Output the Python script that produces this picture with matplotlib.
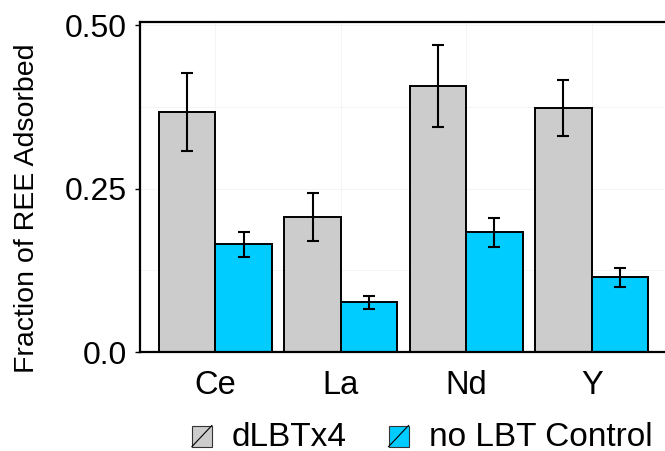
import numpy as np
import matplotlib
matplotlib.use('Agg')
from matplotlib import pyplot as plt
from matplotlib.patches import Patch, Rectangle
from matplotlib.lines import Line2D
from matplotlib.ticker import MultipleLocator


# values
elements = ['Ce', 'La', 'Nd', 'Y']
dlbt_mean = [0.367, 0.206, 0.407, 0.373]
dlbt_err = [0.059, 0.037, 0.063, 0.043]
ctrl_mean = [0.165, 0.076, 0.183, 0.114]
ctrl_err = [0.019, 0.010, 0.022, 0.014]
series_names = ['dLBTx4', 'no LBT Control']
y_ticks = [0.0, 0.25, 0.50]
y_tick_labels = ['0.0', '0.25', '0.50']

grey = '#CCCCCC'
blue = '#00CCFF'


class SlashKey:
    """legend key: filled square with a diagonal stroke"""
    def legend_artist(self, legend, orig_handle, fontsize, handlebox):
        x0, y0 = handlebox.xdescent, handlebox.ydescent
        w, h = handlebox.width, handlebox.height
        box = Rectangle((x0, y0), w, h, facecolor=orig_handle.get_facecolor(),
                        edgecolor='#333333', lw=0.8,
                        transform=handlebox.get_transform())
        slash = Line2D([x0, x0 + w], [y0, y0 + h], color='black', lw=0.8,
                       transform=handlebox.get_transform())
        handlebox.add_artist(box)
        handlebox.add_artist(slash)
        return box


plt.rcParams['font.family'] = ['Liberation Sans', 'DejaVu Sans']

W, H = 665, 451
fig = plt.figure(figsize=(W / 100, H / 100), dpi=100)
ax = fig.add_axes([140 / W, (H - 352) / H, 527 / W, 330 / H])

x = np.arange(len(elements))
bw = 0.45
ebar = dict(ecolor='black', elinewidth=1.5, capsize=4.3, capthick=1.5)
ax.bar(x - bw / 2, dlbt_mean, bw, yerr=dlbt_err, color=grey,
       edgecolor='black', lw=1.4, error_kw=ebar, zorder=2)
ax.bar(x + bw / 2, ctrl_mean, bw, yerr=ctrl_err, color=blue,
       edgecolor='black', lw=1.4, error_kw=ebar, zorder=2)

ax.set_xlim(-0.6, 3.6)
ax.set_ylim(0, 0.5046)
ax.set_xticks(x)
ax.set_xticklabels(elements)
ax.set_yticks(y_ticks)
ax.set_yticklabels(y_tick_labels)
ax.yaxis.set_minor_locator(MultipleLocator(0.125))

ax.grid(True, which='both', color='#F3F3F3', lw=0.6, zorder=0)
ax.set_axisbelow(True)

for side in ['left', 'top', 'bottom']:
    ax.spines[side].set_linewidth(1.6)
ax.spines['right'].set_visible(False)

ax.tick_params(axis='x', length=0, pad=13, labelsize=23.5)
ax.tick_params(axis='y', which='major', length=3.6, width=1, pad=6, labelsize=23)
ax.tick_params(axis='y', which='minor', length=0)

ax.set_ylabel('Fraction of REE Adsorbed', fontsize=20.5)
ax.yaxis.set_label_coords(-0.19, 0.436)

handles = [Patch(facecolor=grey), Patch(facecolor=blue)]
fig.legend(handles, series_names, handler_map={Patch: SlashKey()},
           loc='center', bbox_to_anchor=(422 / W, (H - 437) / H), ncol=2,
           frameon=False, fontsize=24, handlelength=0.6, handleheight=0.6,
           handletextpad=0.6, columnspacing=1.25)

plt.savefig('out.png', dpi=100)
